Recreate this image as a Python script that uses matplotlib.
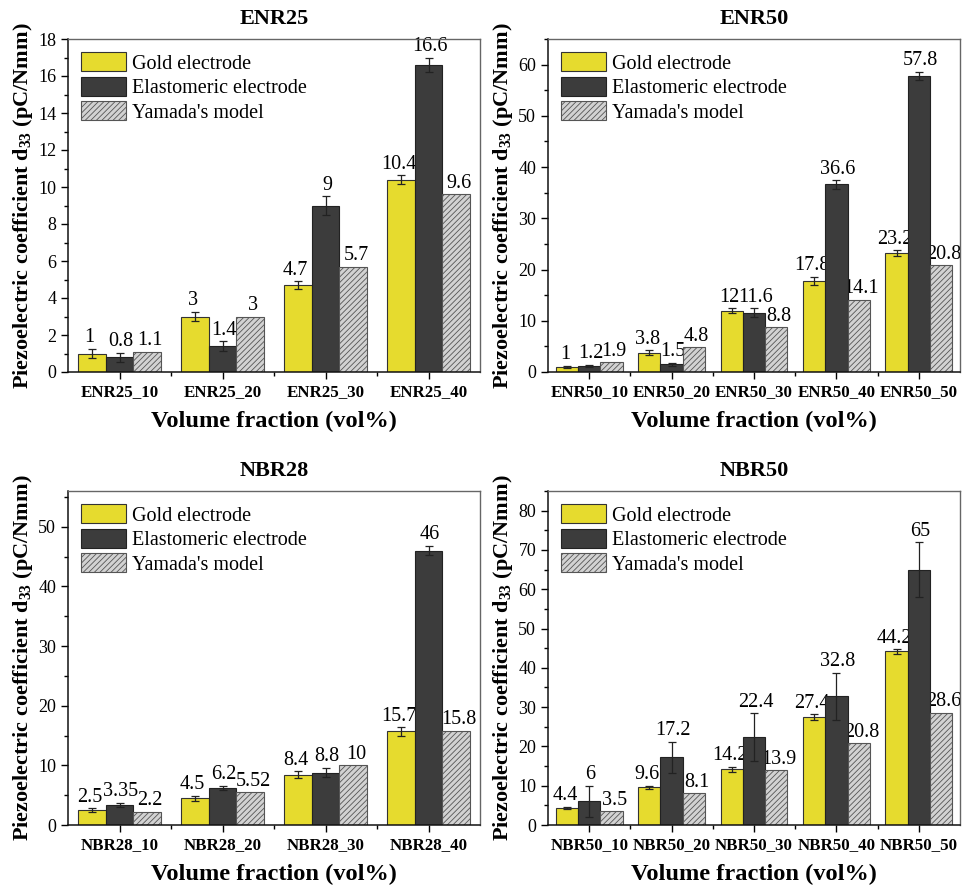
import numpy as np
import matplotlib
matplotlib.use("Agg")
import matplotlib.pyplot as plt
from matplotlib.ticker import AutoMinorLocator, MultipleLocator

plt.rcParams['font.family'] = ['Liberation Serif', 'DejaVu Serif']
plt.rcParams['mathtext.fontset'] = 'custom'
plt.rcParams['mathtext.rm'] = 'Liberation Serif'
plt.rcParams['mathtext.bf'] = 'Liberation Serif:bold'
plt.rcParams['hatch.linewidth'] = 0.6

series_names = ["Gold electrode", "Elastomeric electrode", "Yamada's model"]

# ENR25
enr25_cats = ["ENR25_10", "ENR25_20", "ENR25_30", "ENR25_40"]
enr25_gold = [1, 3, 4.7, 10.4]
enr25_gold_err = [0.25, 0.25, 0.2, 0.25]
enr25_elast = [0.8, 1.4, 9, 16.6]
enr25_elast_err = [0.25, 0.25, 0.5, 0.4]
enr25_yamada = [1.1, 3, 5.7, 9.6]

# ENR50
enr50_cats = ["ENR50_10", "ENR50_20", "ENR50_30", "ENR50_40", "ENR50_50"]
enr50_gold = [1, 3.8, 12, 17.8, 23.2]
enr50_gold_err = [0.2, 0.5, 0.5, 0.8, 0.6]
enr50_elast = [1.2, 1.5, 11.6, 36.6, 57.8]
enr50_elast_err = [0.2, 0.3, 0.8, 0.8, 0.8]
enr50_yamada = [1.9, 4.8, 8.8, 14.1, 20.8]

# NBR28
nbr28_cats = ["NBR28_10", "NBR28_20", "NBR28_30", "NBR28_40"]
nbr28_gold = [2.5, 4.5, 8.4, 15.7]
nbr28_gold_err = [0.3, 0.4, 0.6, 0.7]
nbr28_elast = [3.35, 6.2, 8.8, 46]
nbr28_elast_err = [0.4, 0.4, 0.8, 0.8]
nbr28_yamada = [2.2, 5.52, 10, 15.8]

# NBR50
nbr50_cats = ["NBR50_10", "NBR50_20", "NBR50_30", "NBR50_40", "NBR50_50"]
nbr50_gold = [4.4, 9.6, 14.2, 27.4, 44.2]
nbr50_gold_err = [0.3, 0.4, 0.6, 0.8, 0.6]
nbr50_elast = [6, 17.2, 22.4, 32.8, 65]
nbr50_elast_err = [4, 4, 6, 6, 7]
nbr50_yamada = [3.5, 8.1, 13.9, 20.8, 28.6]

GOLD = '#E6DB2E'
DARK = '#3C3C3C'
GREY = '#D2D2D2'


def fmt(v):
    return ('%g' % v)


def panel(ax, title, cats, gold, gold_err, elast, elast_err, yam, ymax, ymajor):
    x = np.arange(len(cats))
    w = 0.27
    ekw = dict(elinewidth=0.9, capthick=0.9, ecolor='#222222')
    ax.bar(x - w, gold, w, color=GOLD, edgecolor='#333333', linewidth=0.8,
           yerr=gold_err, capsize=3, error_kw=ekw, label=series_names[0], zorder=2)
    ax.bar(x, elast, w, color=DARK, edgecolor='#222222', linewidth=0.8,
           yerr=elast_err, capsize=3, error_kw=ekw, label=series_names[1], zorder=2)
    ax.bar(x + w, yam, w, color=GREY, edgecolor='#555555', linewidth=0.8,
           hatch='//////', label=series_names[2], zorder=2)

    lab_fs = 14.5
    for xi, v, e in zip(x - w, gold, gold_err):
        ax.annotate(fmt(v), (xi, v + e), xytext=(-1.5, 1), textcoords='offset points',
                    ha='center', va='bottom', fontsize=lab_fs, zorder=1)
    for xi, v, e in zip(x, elast, elast_err):
        ax.annotate(fmt(v), (xi, v + e), xytext=(1.0, 1), textcoords='offset points',
                    ha='center', va='bottom', fontsize=lab_fs, zorder=1)
    for xi, v in zip(x + w, yam):
        ax.annotate(fmt(v), (xi, v), xytext=(2.0, 1), textcoords='offset points',
                    ha='center', va='bottom', fontsize=lab_fs, zorder=1)

    ax.set_xlim(-0.5, len(cats) - 0.5)
    ax.set_ylim(0, ymax)
    ax.set_xticks(x)
    ax.set_xticklabels(cats, fontweight='bold', fontsize=12.2)
    ax.set_xticks(np.arange(len(cats) - 1) + 0.5, minor=True)
    ax.yaxis.set_major_locator(MultipleLocator(ymajor))
    ax.yaxis.set_minor_locator(AutoMinorLocator(2))
    ax.tick_params(axis='both', which='both', direction='out', top=False, right=False)
    ax.tick_params(axis='y', which='major', length=5, width=1, labelsize=13)
    ax.tick_params(axis='x', which='major', length=5, width=1, labelsize=12.2)
    ax.tick_params(axis='both', which='minor', length=3, width=1)
    for s in ['left', 'bottom']:
        ax.spines[s].set_linewidth(1.1)
        ax.spines[s].set_color('#111111')
    for s in ['top', 'right']:
        ax.spines[s].set_linewidth(1.0)
        ax.spines[s].set_color('#666666')

    ax.set_title(title, fontweight='bold', fontsize=16, pad=11)
    ax.set_xlabel('Volume fraction (vol%)', fontweight='bold', fontsize=17.6, labelpad=8)
    ax.set_ylabel(r'Piezoelectric coefficient d$_\mathbf{33}$ (pC/Nmm)',
                  fontweight='bold', fontsize=16, labelpad=2)
    ax.legend(loc='upper left', frameon=False, fontsize=14.5, handlelength=2.25,
              handleheight=1.1, handletextpad=0.3, labelspacing=0.15,
              borderaxespad=0.25, bbox_to_anchor=(0.0, 1.0),
              prop={'family': ['Liberation Serif'], 'size': 14.5})


fig = plt.figure(figsize=(9.68, 8.89), dpi=100)
W, H = 968.0, 889.0


def add_axes(l, r, t, b):
    return fig.add_axes([l / W, 1 - b / H, (r - l) / W, (b - t) / H])


ax1 = add_axes(68, 480, 39, 372)
ax2 = add_axes(548, 960, 39, 372)
ax3 = add_axes(68, 480, 491, 825)
ax4 = add_axes(548, 960, 491, 825)

panel(ax1, 'ENR25', enr25_cats, enr25_gold, enr25_gold_err, enr25_elast,
      enr25_elast_err, enr25_yamada, 18, 2)
panel(ax2, 'ENR50', enr50_cats, enr50_gold, enr50_gold_err, enr50_elast,
      enr50_elast_err, enr50_yamada, 65, 10)
panel(ax3, 'NBR28', nbr28_cats, nbr28_gold, nbr28_gold_err, nbr28_elast,
      nbr28_elast_err, nbr28_yamada, 56, 10)
panel(ax4, 'NBR50', nbr50_cats, nbr50_gold, nbr50_gold_err, nbr50_elast,
      nbr50_elast_err, nbr50_yamada, 85, 10)

fig.savefig('out.png', dpi=100)
